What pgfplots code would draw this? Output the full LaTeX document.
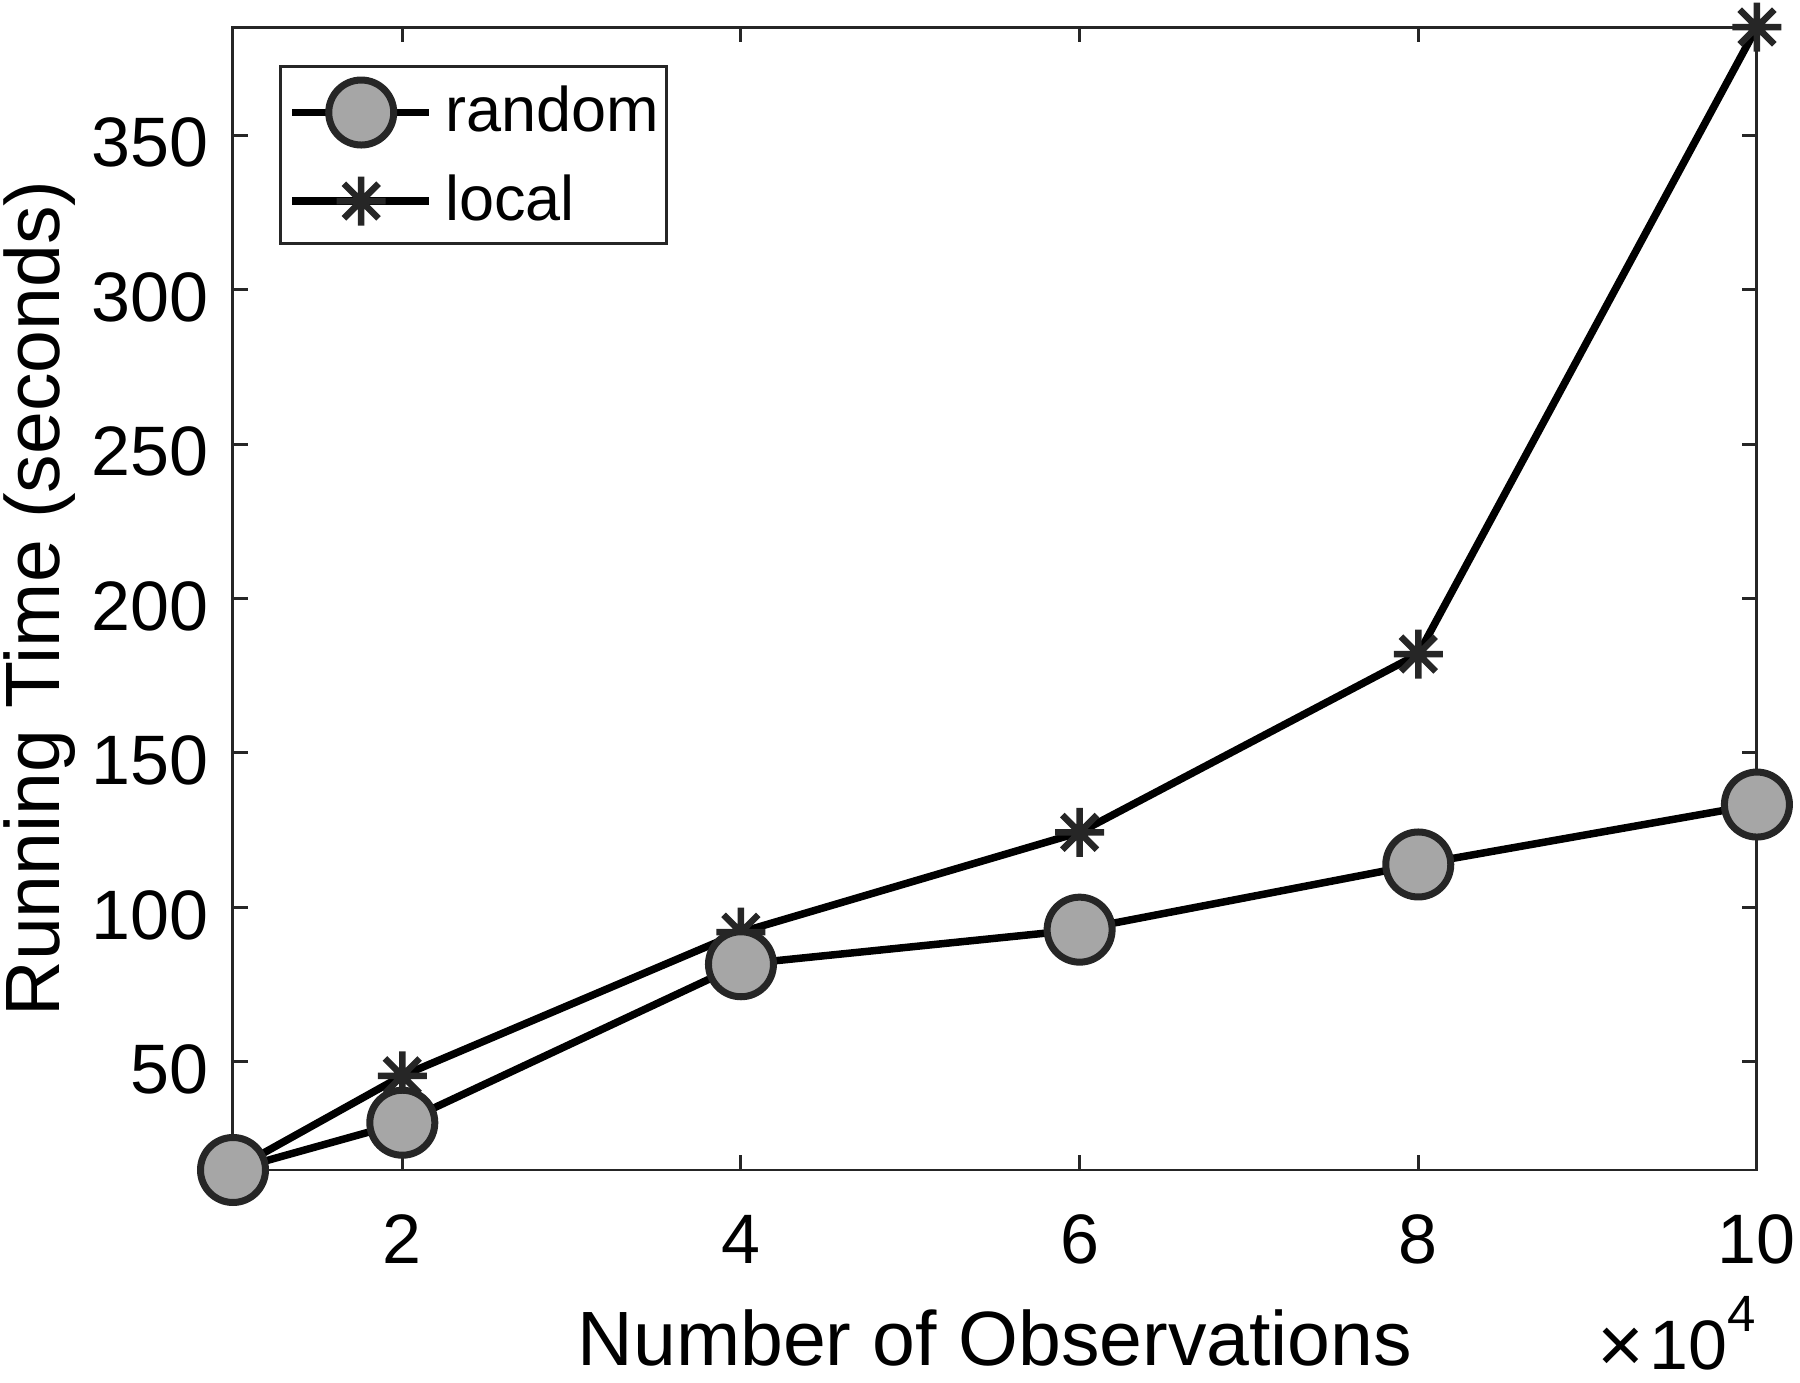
\documentclass[border=0pt]{standalone}
\usepackage{pgfplots}
\pgfplotsset{compat=1.18}
\usepackage{fontspec}
\setmainfont{Liberation Sans}

\definecolor{edgegray}{RGB}{38,38,38}
\definecolor{fillgray}{RGB}{166,166,166}

% matlab style asterisk: + and x on top of each other
\pgfdeclareplotmark{mstar}{%
  \pgfpathmoveto{\pgfqpoint{\pgfplotmarksize}{0pt}}%
  \pgfpathlineto{\pgfqpoint{-\pgfplotmarksize}{0pt}}%
  \pgfpathmoveto{\pgfqpoint{0pt}{\pgfplotmarksize}}%
  \pgfpathlineto{\pgfqpoint{0pt}{-\pgfplotmarksize}}%
  \pgfpathmoveto{\pgfqpoint{0.707\pgfplotmarksize}{0.707\pgfplotmarksize}}%
  \pgfpathlineto{\pgfqpoint{-0.707\pgfplotmarksize}{-0.707\pgfplotmarksize}}%
  \pgfpathmoveto{\pgfqpoint{-0.707\pgfplotmarksize}{0.707\pgfplotmarksize}}%
  \pgfpathlineto{\pgfqpoint{0.707\pgfplotmarksize}{-0.707\pgfplotmarksize}}%
  \pgfusepathqstroke}

\begin{document}
\begin{tikzpicture}
\begin{axis}[
  name=ax,
  scale only axis,
  width=304.8pt, height=228.6pt,
  xmin=1, xmax=10, ymin=15, ymax=385,
  xtick={2,4,6,8,10},
  ytick={50,100,150,200,250,300,350},
  tick align=inside,
  major tick length=3pt,
  axis line style={edgegray, line width=0.6pt},
  every tick/.style={edgegray, line width=0.6pt},
  clip=false,
  font=\fontsize{14}{16}\selectfont,
  /pgf/number format/assume math mode=true,
  xticklabel style={anchor=base, inner sep=0pt, yshift=-18.6pt},
  yticklabel style={anchor=east, inner sep=0pt, xshift=-4.8pt, yshift=-1.5pt},
  xlabel={Number of Observations},
  ylabel={Running Time (seconds)},
  every axis x label/.style={at={(rel axis cs:0.5,0)}, anchor=base, yshift=-39.2pt, font=\fontsize{15.4}{17}\selectfont},
  every axis y label/.style={at={(rel axis cs:0,0.5)}, xshift=-38.6pt, rotate=90, anchor=center, font=\fontsize{15.4}{17}\selectfont},
  legend cell align=left,
  legend style={at={(rel axis cs:0,1)}, anchor=north west, xshift=9.2pt, yshift=-7.6pt,
    draw=edgegray, line width=0.6pt, font=\fontsize{12.6}{14}\selectfont,
    inner xsep=1.6pt, inner ysep=2.7pt, row sep=5.4pt,
    nodes={inner sep=0pt, inner ysep=0.5pt}},
  legend image code/.code={%
    \draw[line width=1.5pt, mark repeat=2, mark phase=2] plot coordinates {(0pt,0pt) (13.8pt,0pt) (27.4pt,0pt)};
    \path[draw=none] (27.4pt,0pt) -- (30.6pt,0pt);},
]
\addlegendimage{black, mark=*, mark size=6.5pt,
  mark options={draw=edgegray, fill=fillgray, line width=1.4pt}}
\addlegendentry{random\hspace{1.2pt}}
\addlegendimage{black, mark=mstar, mark size=4.9pt,
  mark options={draw=edgegray, line width=1.3pt}}
\addlegendentry{local}

% local
\addplot[forget plot, black, line width=1.5pt, mark=mstar, mark size=4.9pt,
  mark options={draw=edgegray, line width=1.3pt}]
  coordinates {(1,15) (2,45.5) (4,92) (6,124.3) (8,182) (10,385)};
% random (drawn on top)
\addplot[forget plot, black, line width=1.5pt, mark=*, mark size=6.5pt,
  mark options={draw=edgegray, fill=fillgray, line width=1.4pt}]
  coordinates {(1,15) (2,30.3) (4,81.6) (6,92.8) (8,113.9) (10,133.3)};

\node[anchor=base east, inner sep=0pt] at (rel axis cs:1,0) [yshift=-39.8pt]
  {\smash{\raisebox{-0.05em}{\fontsize{16}{16}\selectfont ×}}\hspace{1pt}10\raisebox{0.53em}{\fontsize{10.2}{12}\selectfont 4}};
\end{axis}
\pgfresetboundingbox
\path (ax.south west) ++(-46.6pt,-42.6pt) rectangle ++(360pt,276.6pt);
\end{tikzpicture}
\end{document}
